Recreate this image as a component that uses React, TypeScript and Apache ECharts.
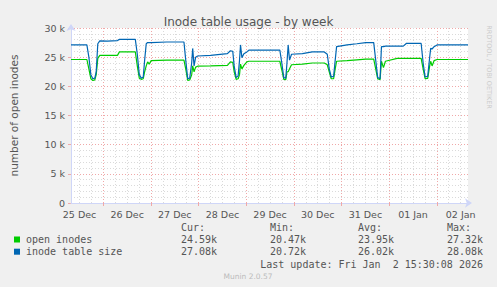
import React, { useEffect, useRef } from "react";
import * as echarts from "echarts";

// Time in hours since 25 Dec 00:00
const hours = [
  7.7, 11.5, 15.7, 16.7, 17.7, 18.7, 19.7, 20.4, 21.2, 22.2, 26.0, 31.1, 32.1, 40.1, 41.1, 42.1, 43.1, 44.1,
  44.8, 45.6, 46.3, 47.1, 48.1, 56.0, 64.6, 65.5, 66.5, 67.5, 68.5, 69.0, 69.7, 70.5, 71.5, 78.0, 86.5, 88.0,
  89.2, 89.9, 90.9, 91.9, 92.6, 93.1, 93.8, 94.8, 96.3, 97.3, 112.9, 113.9, 114.9, 115.9, 116.5, 117.1, 117.8,
  118.8, 124.3, 129.3, 135.3, 136.8, 137.8, 138.8, 140.0, 140.8, 141.5, 146.8, 151.7, 156.2, 160.2, 161.2,
  162.2, 163.4, 164.1, 165.1, 166.1, 172.0, 175.1, 176.6, 184.1, 185.1, 186.1, 187.4, 188.4, 188.9, 189.6,
  190.6, 192.1, 207.7,
];
const openInodes = [
  24600, 24600, 24600, 23000, 21300, 21000, 21100, 22000, 24800, 25300, 25300, 25300, 25900, 25900, 23500,
  21400, 21200, 21300, 22500, 23500, 24200, 23800, 24400, 24500, 24500, 23000, 21000, 21100, 22000, 23500,
  22500, 23300, 23450, 23500, 23600, 24200, 24100, 22500, 21200, 21300, 22000, 23800, 23000, 23600, 24200,
  24300, 24300, 22800, 21200, 21150, 22500, 22500, 23000, 23700, 23800, 24000, 24000, 23700, 22500, 21300,
  21300, 23000, 24300, 24400, 24550, 24650, 24650, 23000, 21300, 21150, 24300, 23200, 24300, 24800, 24800,
  24800, 24800, 23000, 21300, 21350, 23500, 24300, 23500, 24400, 24600, 24600,
];
const inodeTableSize = [
  27100, 27100, 27100, 25000, 22000, 21300, 21400, 22500, 27300, 27800, 27750, 27850, 28050, 28050, 25500,
  22000, 21400, 21600, 24500, 27300, 27500, 27500, 27500, 27600, 27600, 24500, 21300, 21400, 24000, 26500,
  23500, 25000, 25200, 25300, 25600, 26100, 26000, 23500, 21500, 21800, 24500, 27100, 24900, 25600, 25900,
  26200, 26200, 24000, 21500, 21400, 24000, 27100, 24500, 25500, 25600, 25900, 25900, 25500, 23000, 21600,
  21700, 24500, 26800, 27100, 27300, 27500, 27500, 24500, 21500, 21300, 26800, 26800, 26900, 26900, 26900,
  27350, 27350, 24000, 21600, 21700, 25000, 26500, 26400, 26800, 27100, 27100,
];

const dayLabels = ["25 Dec", "26 Dec", "27 Dec", "28 Dec", "29 Dec", "30 Dec", "31 Dec", "01 Jan", "02 Jan"];
const labelHours = [12, 36, 60, 84, 108, 132, 156, 180, 204];
const midnightHours = [24, 48, 72, 96, 120, 144, 168, 192];
const minorHours = [
  12, 18, 30, 36, 42, 54, 60, 66, 78, 84, 90, 102, 108, 114, 126, 132, 138, 150, 156, 162, 174, 180, 186, 198, 204,
];

const seriesNames = ["open inodes", "inode table size"];
const curValues = ["24.59k", "27.08k"];
const minValues = ["20.47k", "20.72k"];
const avgValues = ["23.95k", "26.02k"];
const maxValues = ["27.32k", "28.08k"];
const columnHeaders = ["Cur:", "Min:", "Avg:", "Max:"];
const lastUpdate = "Last update: Fri Jan  2 15:30:08 2026";
const titleText = "Inode table usage - by week";
const yAxisName = "number of open inodes";
const footer = "Munin 2.0.57";
const sideText = "RRDTOOL / TOBI OETIKER";

const colors = ["#00cc00", "#0066b3"];
const SANS = "DejaVu Sans";
const MONO = "DejaVu Sans Mono";
const X_MIN = 7.7;
const X_MAX = 207.7;

export default function App() {
  const ref = useRef<HTMLDivElement>(null);

  useEffect(() => {
    if (!ref.current) return;
    const chart = echarts.init(ref.current, undefined, { renderer: "svg" });

    const colX = [181, 270, 358, 447];
    const rowY = [239.5, 251.7];
    const graphic: any[] = [];
    columnHeaders.forEach((h, i) => {
      graphic.push({
        type: "text",
        left: colX[i],
        top: 222,
        style: { text: h, font: `10px '${MONO}'`, fill: "#555" },
      });
    });
    const cols = [curValues, minValues, avgValues, maxValues];
    seriesNames.forEach((name, r) => {
      graphic.push({
        type: "rect",
        shape: { x: 14, y: rowY[r] - 3, width: 6, height: 6 },
        style: { fill: colors[r] },
      });
      graphic.push({
        type: "text",
        x: 26,
        y: rowY[r],
        style: { text: name, font: `10px '${MONO}'`, fill: "#555", verticalAlign: "middle" },
      });
      cols.forEach((c, i) => {
        graphic.push({
          type: "text",
          x: colX[i],
          y: rowY[r],
          style: { text: c[r], font: `10px '${MONO}'`, fill: "#555", verticalAlign: "middle" },
        });
      });
    });
    graphic.push({
      type: "text",
      x: 483,
      y: 264,
      style: { text: lastUpdate, font: `10px '${MONO}'`, fill: "#555", align: "right", verticalAlign: "middle" },
    });
    graphic.push({
      type: "text",
      x: 248,
      y: 276,
      style: { text: footer, font: `7.5px '${SANS}'`, fill: "#bbb", align: "center", verticalAlign: "middle" },
    });
    graphic.push({
      type: "text",
      x: 489,
      y: 67,
      rotation: -Math.PI / 2,
      style: { text: sideText, font: `6.5px '${SANS}'`, fill: "#ccc", align: "center", verticalAlign: "middle" },
    });

    const axisColor = "#cfd6f8";
    const majorGrid = "#f0a8a8";
    const minorGrid = "#dadada";

    chart.setOption({
      animation: false,
      backgroundColor: "#f0f0f0",
      title: {
        text: titleText,
        left: "center",
        top: 11,
        textStyle: { fontFamily: SANS, fontSize: 12, fontWeight: "normal", color: "#555" },
      },
      grid: {
        left: 66,
        right: 29,
        top: 28,
        bottom: 84,
        show: true,
        backgroundColor: "#ffffff",
        borderWidth: 0,
      },
      xAxis: [
        {
          type: "value",
          min: X_MIN,
          max: X_MAX,
          position: "bottom",
          z: 1,
          axisLine: {
            show: true,
            lineStyle: { color: axisColor, width: 1 },
            symbol: ["none", "arrow"],
            symbolSize: [7, 7],
            symbolOffset: [0, 4],
          },
          axisTick: {
            show: true,
            customValues: midnightHours,
            length: 3,
            lineStyle: { color: majorGrid },
          },
          axisLabel: {
            customValues: labelHours,
            formatter: (v: number) => dayLabels[labelHours.indexOf(Math.round(v))] ?? "",
            fontFamily: SANS,
            fontSize: 9.5,
            color: "#555",
            margin: 6,
          },
          splitLine: { show: true, lineStyle: { color: majorGrid, type: [1, 2], width: 1 } },
        },
        {
          type: "value",
          min: X_MIN,
          max: X_MAX,
          position: "bottom",
          z: 0,
          axisLine: { show: false },
          axisTick: { show: false, customValues: minorHours },
          axisLabel: { show: false },
          splitLine: { show: true, lineStyle: { color: minorGrid, type: [1, 2], width: 1 } },
        },
      ],
      yAxis: {
        type: "value",
        min: 0,
        max: 30000,
        interval: 5000,
        name: yAxisName,
        nameLocation: "middle",
        nameRotate: 90,
        nameGap: 52,
        nameTextStyle: { fontFamily: SANS, fontSize: 10.5, color: "#555" },
        axisLine: {
          show: true,
          lineStyle: { color: axisColor, width: 1 },
          symbol: ["none", "arrow"],
          symbolSize: [7, 7],
          symbolOffset: [0, 4],
        },
        axisTick: { show: true, length: 3, lineStyle: { color: majorGrid } },
        axisLabel: {
          formatter: (v: number) => (v === 0 ? "0" : `${v / 1000} k`),
          fontFamily: SANS,
          fontSize: 9.5,
          color: "#555",
          margin: 6,
        },
        splitLine: { show: true, lineStyle: { color: majorGrid, type: [1, 2], width: 1 } },
        minorTick: { show: false, splitNumber: 5 },
        minorSplitLine: { show: true, lineStyle: { color: minorGrid, type: [1, 2], width: 1 } },
      },
      series: [
        {
          name: seriesNames[0],
          type: "line",
          xAxisIndex: 0,
          data: hours.map((h, i) => [h, openInodes[i]]),
          showSymbol: false,
          symbol: "none",
          lineStyle: { color: colors[0], width: 1.2 },
          z: 3,
        },
        {
          name: seriesNames[1],
          type: "line",
          xAxisIndex: 0,
          data: hours.map((h, i) => [h, inodeTableSize[i]]),
          showSymbol: false,
          symbol: "none",
          lineStyle: { color: colors[1], width: 1.2 },
          z: 4,
        },
      ],
      graphic,
    });

    return () => chart.dispose();
  }, []);

  return <div ref={ref} style={{ position: "fixed", left: 0, top: 0, width: 497, height: 287 }} />;
}
